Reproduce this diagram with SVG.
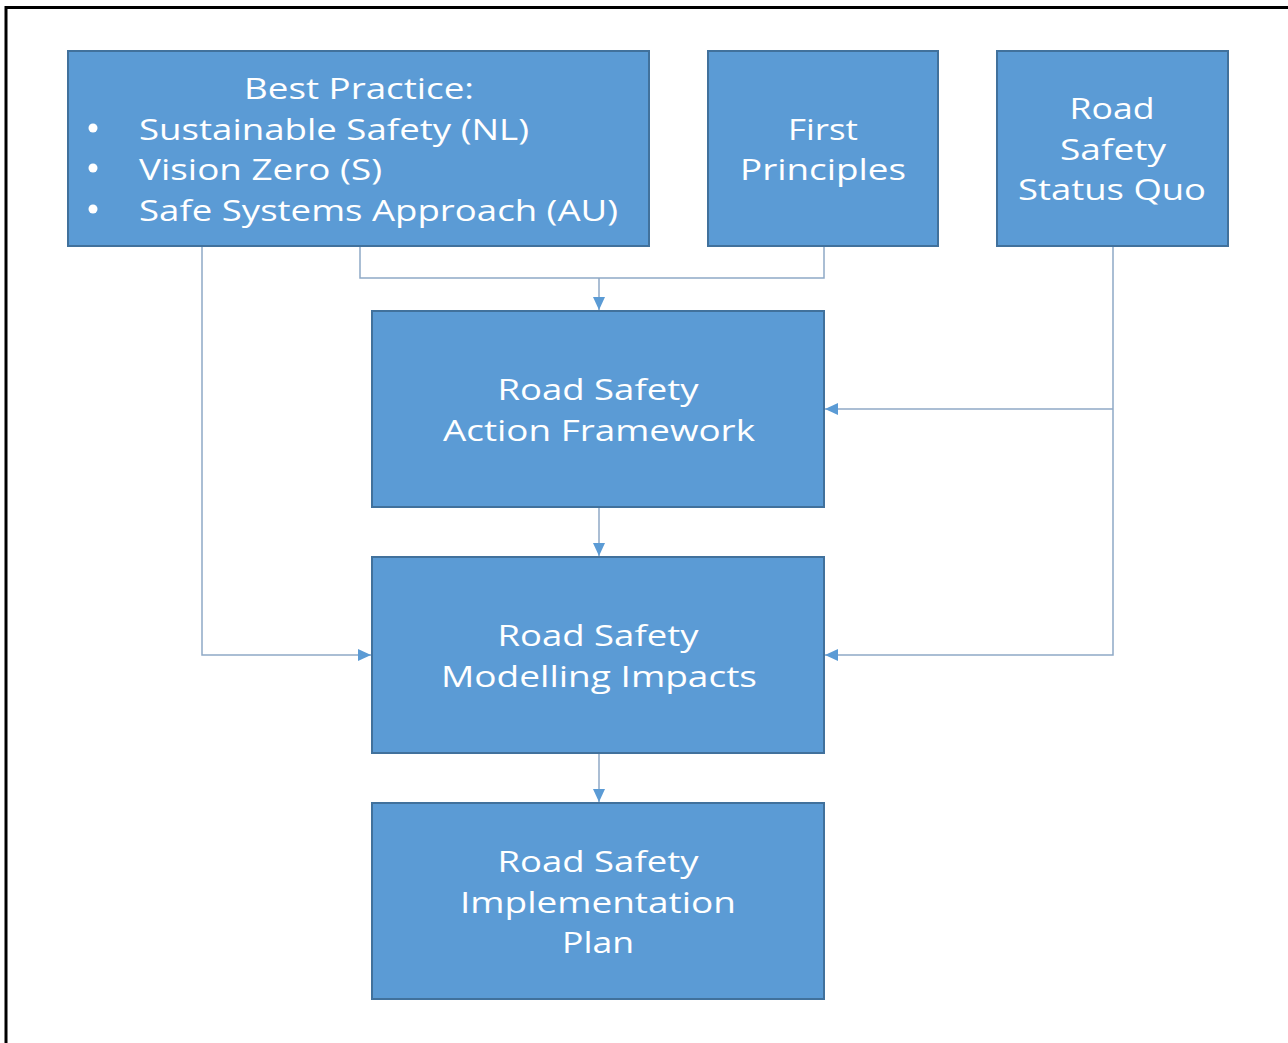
<svg xmlns="http://www.w3.org/2000/svg" width="1288" height="1043" viewBox="0 0 1288 1043">
<style>
.box{fill:#5B9BD5;stroke:#41719C;stroke-width:2}
.t{font-family:"Open Sans","Liberation Sans",sans-serif;font-size:29px;fill:#fff;text-anchor:middle}
.tl{font-family:"Open Sans","Liberation Sans",sans-serif;font-size:29px;fill:#fff}
.c{fill:none;stroke:#8FA9C6;stroke-width:1.5}
.b{fill:#fff}
</style>
<defs>
<marker id="ah" markerWidth="13" markerHeight="12" refX="13" refY="6" orient="auto" markerUnits="userSpaceOnUse">
<path d="M0,0 L13,6 L0,12 z" fill="#5B9BD5"/>
</marker>
</defs>
<rect x="0" y="0" width="1288" height="1043" fill="#fff"/>
<path d="M6,1043 V7.5 H1288" fill="none" stroke="#000" stroke-width="3"/>
<g id="connectors">
<path class="c" d="M360,246 V278 H824 V246"/>
<path class="c" d="M599,278 V310" marker-end="url(#ah)"/>
<path class="c" d="M599,507 V556" marker-end="url(#ah)"/>
<path class="c" d="M599,753 V802" marker-end="url(#ah)"/>
<path class="c" d="M202,246 V655 H371" marker-end="url(#ah)"/>
<path class="c" d="M1113,246 V655 H825" marker-end="url(#ah)"/>
<path class="c" d="M1113,409 H825" marker-end="url(#ah)"/>
</g>
<g id="best-practice">
<rect class="box" x="68" y="51" width="581" height="195"/>
<text class="t" x="359" y="99" textLength="230" lengthAdjust="spacingAndGlyphs">Best Practice:</text>
<circle class="b" cx="93" cy="128" r="4.5"/><text class="tl" x="139" y="140" textLength="390" lengthAdjust="spacingAndGlyphs">Sustainable Safety (NL)</text>
<circle class="b" cx="93" cy="168" r="4.5"/><text class="tl" x="139" y="180" textLength="243" lengthAdjust="spacingAndGlyphs">Vision Zero (S)</text>
<circle class="b" cx="93" cy="209" r="4.5"/><text class="tl" x="139" y="221" textLength="479" lengthAdjust="spacingAndGlyphs">Safe Systems Approach (AU)</text>
</g>
<g id="first-principles">
<rect class="box" x="708" y="51" width="230" height="195"/>
<text class="t" x="823" y="140" textLength="70" lengthAdjust="spacingAndGlyphs">First</text>
<text class="t" x="823" y="180" textLength="166" lengthAdjust="spacingAndGlyphs">Principles</text>
</g>
<g id="status-quo">
<rect class="box" x="997" y="51" width="231" height="195"/>
<text class="t" x="1112" y="119" textLength="85" lengthAdjust="spacingAndGlyphs">Road</text>
<text class="t" x="1113" y="160" textLength="106" lengthAdjust="spacingAndGlyphs">Safety</text>
<text class="t" x="1112" y="200" textLength="188" lengthAdjust="spacingAndGlyphs">Status Quo</text>
</g>
<g id="action-framework">
<rect class="box" x="372" y="311" width="452" height="196"/>
<text class="t" x="598" y="400" textLength="201" lengthAdjust="spacingAndGlyphs">Road Safety</text>
<text class="t" x="599" y="441" textLength="312" lengthAdjust="spacingAndGlyphs">Action Framework</text>
</g>
<g id="modelling-impacts">
<rect class="box" x="372" y="557" width="452" height="196"/>
<text class="t" x="598" y="646" textLength="201" lengthAdjust="spacingAndGlyphs">Road Safety</text>
<text class="t" x="599" y="687" textLength="316" lengthAdjust="spacingAndGlyphs">Modelling Impacts</text>
</g>
<g id="implementation-plan">
<rect class="box" x="372" y="803" width="452" height="196"/>
<text class="t" x="598" y="872" textLength="201" lengthAdjust="spacingAndGlyphs">Road Safety</text>
<text class="t" x="598" y="913" textLength="276" lengthAdjust="spacingAndGlyphs">Implementation</text>
<text class="t" x="598" y="953" textLength="72" lengthAdjust="spacingAndGlyphs">Plan</text>
</g>
</svg>
